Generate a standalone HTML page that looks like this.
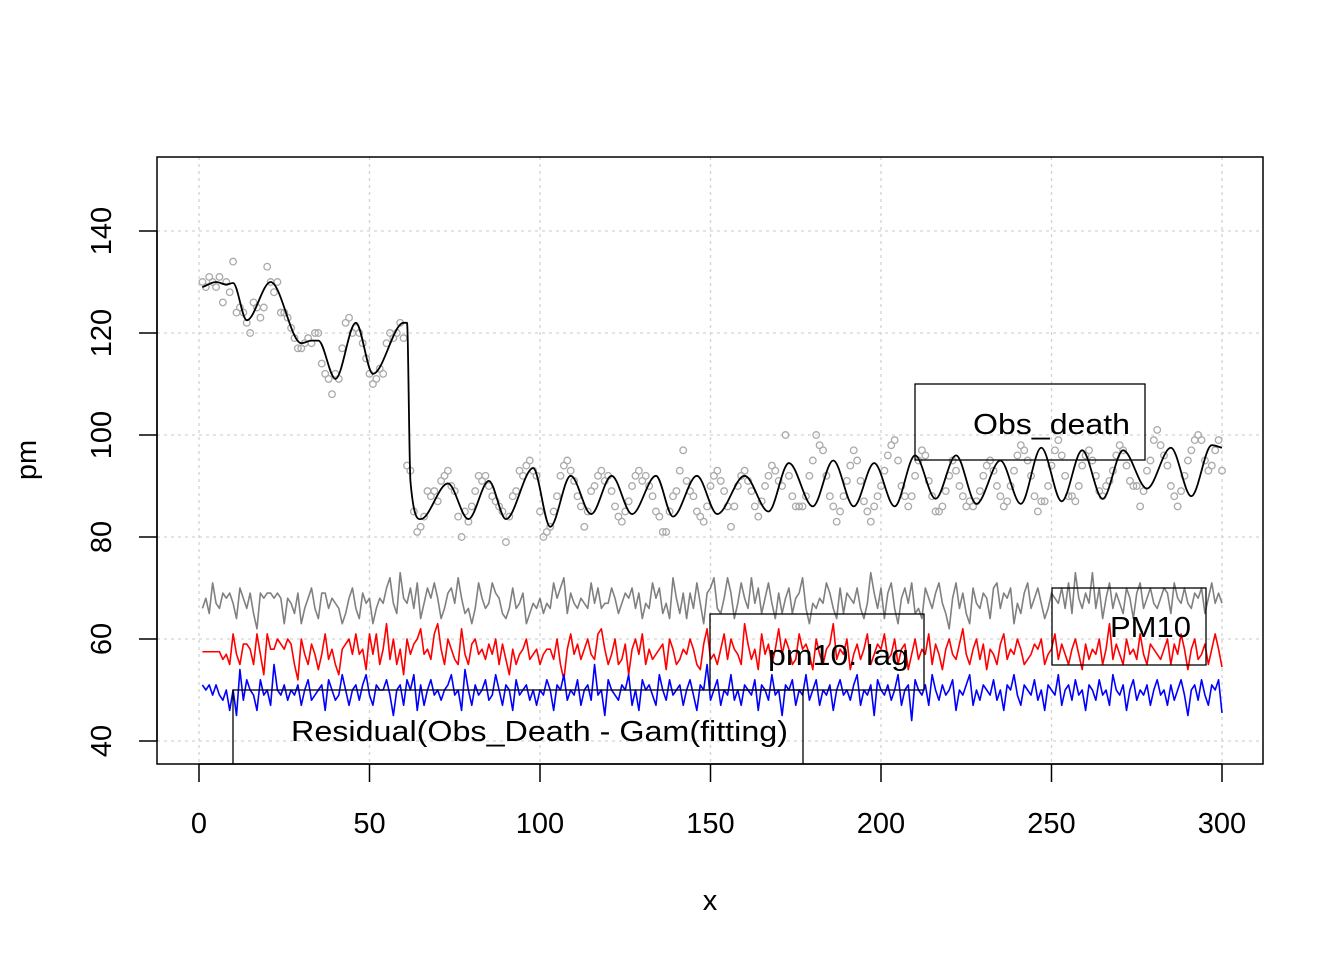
<!DOCTYPE html>
<html><head><meta charset="utf-8"><style>
html,body{margin:0;padding:0;background:#fff}
svg{display:block;font-family:"Liberation Sans",Arial,sans-serif}
</style></head><body>
<svg id="chart" width="1344" height="960"></svg>
<script>
const obsDeath=[130,129,131,130,129,131,126,130,128,134,124,125,124,122,120,126,125,123,125,133,130,128,130,124,124,123,121,119,117,117,118,119,118,120,120,114,112,111,108,112,111,117,122,123,120,121,120,118,115,112,110,111,113,112,118,120,119,120,122,119,94,93,85,81,82,84,89,88,89,87,91,92,93,90,89,84,80,85,83,86,89,92,91,92,90,88,87,86,85,79,84,88,89,93,92,94,95,93,92,85,80,81,82,85,88,92,94,95,93,91,88,86,82,85,89,90,92,93,91,92,89,86,84,83,85,87,90,92,93,91,92,90,88,85,84,81,81,85,88,89,93,97,91,89,88,85,84,83,86,90,92,93,91,89,86,82,86,90,92,93,91,89,86,84,87,90,92,94,93,91,90,100,92,88,86,86,86,88,92,95,100,98,97,92,88,86,83,85,88,91,94,97,95,91,87,85,83,86,88,90,93,96,98,99,95,90,88,86,88,92,95,97,96,91,88,85,85,86,89,92,95,93,90,88,86,87,86,87,89,92,94,95,93,90,88,86,87,90,93,96,98,97,95,92,88,85,87,87,90,94,97,99,96,92,88,88,87,90,94,96,97,95,92,89,88,90,91,93,96,98,97,94,91,90,90,86,89,93,95,99,101,98,96,94,90,88,86,89,92,95,97,99,100,99,95,93,94,97,99,93];
const fitX=[1,5,8,10,14,21,30,33,35,40,46,51,60,61,62,65,73,79,85,90,98,103,109,115,121,127,134,139,146,152,160,167,173,180,186,192,198,204,210,216,222,228,235,241,247,253,259,265,271,278,285,291,297,300];
const fitY=[129,130,129.5,129.8,122.5,130,118,118.5,118.5,111,122,112,122,122,91,83.5,90.5,83.5,91,83.5,93.5,82,92,84.5,92,84.5,92,84,92,84.5,92,85,94.5,86,95,86,94.5,86,96,87.5,96,86.5,95,86.5,97.5,87,97,87.5,97,89.5,97.5,88,98,97.5];
const pm10=[66,68,65,71,67,66,69,68,69,67,64,70,68,66,69,65,62,69,68,69,69,68,69,68,63,68,67,65,69,63,66,68,70,66,64,69,69,66,68,67,66,63,65,68,70,66,64,69,67,68,63,66,68,67,70,72,67,65,73,68,67,70,66,71,64,67,70,68,71,68,64,66,69,70,67,72,68,65,66,63,66,71,68,66,67,71,69,68,65,64,66,70,66,67,69,63,65,67,66,68,65,67,66,71,68,70,72,65,69,67,66,68,67,66,71,67,70,66,67,67,70,68,65,67,69,68,70,66,69,64,67,66,71,68,70,65,67,64,72,68,65,69,64,69,66,71,67,63,69,70,72,66,65,68,72,69,64,67,71,68,66,72,67,70,65,68,71,67,64,69,65,68,70,65,68,69,72,66,63,67,66,68,67,71,69,66,64,70,65,69,68,67,70,66,64,67,73,69,66,70,64,69,71,66,63,68,70,67,71,65,66,64,70,68,66,69,71,67,65,62,68,71,66,69,65,63,70,67,66,69,68,64,70,71,66,69,68,70,63,67,65,69,71,66,68,70,67,64,66,69,68,67,70,66,71,65,73,68,66,69,67,73,66,70,64,68,71,66,69,67,65,70,68,64,69,71,66,68,70,67,66,68,70,69,65,71,68,67,70,67,66,69,68,70,65,68,71,67,69,67];
const pm10Lag=[57.5,57.5,57.5,57.5,57.5,57.5,56,57,55,61,57,55,59,59,58,55,61,57,53,61,58,58,60,59,58,60,59,55,52,60,57,55,59,57,54,57,61,56,58,55,53,58,59,60,57,61,57,58,54,61,57,61,55,58,63,56,60,55,58,53,60,57,59,60,62,57,58,56,61,63,58,55,60,58,56,55,62,57,55,59,60,57,58,56,59,57,60,55,59,56,53,58,55,57,58,60,56,57,58,55,57,58,58,56,60,55,52,58,61,57,59,56,58,60,57,56,61,62,58,55,57,60,55,56,59,53,58,60,57,61,55,58,56,57,58,59,54,60,58,55,56,58,57,60,58,55,54,59,62,56,57,55,58,61,56,60,58,57,55,63,59,56,58,54,61,57,59,55,58,62,57,60,58,55,56,61,58,59,57,54,60,57,55,58,59,63,56,58,57,60,54,57,59,56,58,61,55,57,59,58,61,56,57,60,55,58,59,54,57,60,56,58,57,61,55,59,57,54,58,60,57,56,59,62,57,55,58,60,56,59,54,58,57,55,59,61,56,58,57,60,58,55,56,57,59,58,60,55,57,58,61,56,59,57,55,58,60,57,54,59,56,58,57,60,55,58,63,56,59,57,55,60,57,58,56,61,57,55,59,58,57,56,58,60,55,59,57,61,58,54,58,60,56,57,59,55,58,61,58,54.5];
const resid=[51,50,51,49,51,49,48,50,46,50,45,54,48,52,50,49,46,52,49,50,47,55,50,49,51,48,50,49,51,47,50,52,48,49,50,51,46,52,50,48,49,53,50,47,50,51,48,51,53,49,47,51,50,50,52,49,45,50,51,47,52,50,53,46,51,47,50,52,49,50,48,50,51,53,49,50,46,54,50,47,51,49,50,52,48,49,53,50,47,51,50,46,52,49,50,51,48,50,47,50,49,52,50,46,51,50,53,48,50,49,52,47,50,51,48,55,49,50,45,52,50,49,48,51,50,53,47,50,46,52,50,51,49,47,53,50,48,52,49,50,51,47,50,52,49,46,51,50,55,48,50,52,47,50,49,53,48,50,47,51,50,49,52,46,51,50,48,53,49,50,45,51,50,52,47,50,49,53,48,50,52,47,50,49,51,46,50,52,49,50,48,51,53,47,50,49,51,45,52,50,49,51,48,50,53,47,50,51,44,52,50,49,51,47,53,50,48,51,49,50,52,46,50,49,51,53,47,50,48,51,50,49,52,48,50,46,51,50,53,49,47,51,50,49,52,48,50,46,51,50,49,53,47,50,51,48,52,49,50,46,51,50,48,52,49,50,47,53,50,49,51,46,50,52,48,50,49,51,47,50,52,49,50,47,51,48,50,52,49,45,50,51,48,52,49,47,51,50,52,45.5];
const xTicks=[0,50,100,150,200,250,300];
const yTicks=[40,60,80,100,120,140];

const NS="http://www.w3.org/2000/svg";
const svg=document.getElementById('chart');
const L=157,R=1263,T=157,B=764;
const sx=v=>199+(v)*(1222-199)/300;
const sy=v=>741-(v-40)*(741-231)/100;
function mk(tag,attrs,parent){const e=document.createElementNS(NS,tag);for(const k in attrs)e.setAttribute(k,attrs[k]);(parent||svg).appendChild(e);return e;}

const defs=mk('defs',{});
const cp=mk('clipPath',{id:'clip'},defs);mk('rect',{x:L,y:T,width:R-L,height:B-T},cp);

const grid=mk('g',{});


xTicks.forEach(t=>{mk('line',{x1:sx(t),x2:sx(t),y1:T,y2:B,stroke:'#d3d3d3','stroke-width':1.3,'stroke-dasharray':'3,4'},grid);});
yTicks.forEach(t=>{mk('line',{x1:L,x2:R,y1:sy(t),y2:sy(t),stroke:'#d3d3d3','stroke-width':1.3,'stroke-dasharray':'3,4'},grid);});

const plot=mk('g',{'clip-path':'url(#clip)'});
function poly(arr,color,name){
  const p=mk('polyline',{points:arr.map((v,i)=>sx(i+1)+','+sy(v)).join(' '),fill:'none',stroke:color,'stroke-width':1.6,'stroke-linejoin':'round'},plot);
  
  
}
poly(pm10,'#808080','pm10-line');
poly(pm10Lag,'#ff0000','pm10-lag-line');
poly(resid,'#0000ff','residual-line');

const pts=mk('g',{},plot);


obsDeath.forEach((v,i)=>{
  const c=mk('circle',{cx:sx(i+1),cy:sy(v),r:3.3,fill:'none',stroke:'#aaaaaa','stroke-width':1.3},pts);
  
  
});

(function(){
  const xs=fitX.map(sx),ys=fitY.map(sy),n=xs.length;
  const d=[],m=new Array(n);
  for(let i=0;i<n-1;i++)d.push((ys[i+1]-ys[i])/(xs[i+1]-xs[i]));
  m[0]=d[0];m[n-1]=d[n-2];
  for(let i=1;i<n-1;i++){m[i]=(d[i-1]*d[i]<=0)?0:(d[i-1]+d[i])/2;}
  for(let i=0;i<n-1;i++){if(d[i]===0){m[i]=0;m[i+1]=0;continue;}const a=m[i]/d[i],b=m[i+1]/d[i],s=a*a+b*b;if(s>9){const t=3/Math.sqrt(s);m[i]=t*a*d[i];m[i+1]=t*b*d[i];}}
  let path='M'+xs[0]+','+ys[0];
  for(let i=0;i<n-1;i++){const h=(xs[i+1]-xs[i])/3;path+=' C'+(xs[i]+h)+','+(ys[i]+m[i]*h)+' '+(xs[i+1]-h)+','+(ys[i+1]-m[i+1]*h)+' '+xs[i+1]+','+ys[i+1];}
  const p=mk('path',{d:path,fill:'none',stroke:'#000','stroke-width':1.8},plot);
  
  
})();

const leg=mk('g',{'clip-path':'url(#clip)'});
function legend(x,y,w,h,tx,ty,tl,label,name){
  const g=mk('g',{},leg);
  
  
  mk('rect',{x:x,y:y,width:w,height:h,fill:'none',stroke:'#000','stroke-width':1.3},g);
  const t=mk('text',{x:tx,y:ty,'font-size':29,fill:'#000',textLength:tl,lengthAdjust:'spacingAndGlyphs'},g);t.textContent=label;
}
legend(915,384,230,76,973,434,157,'Obs_death','legend-obs-death');
legend(1052,588,154,77,1110,637,81,'PM10','legend-pm10');
legend(710,614,214,76,768,665,141,'pm10. lag','legend-pm10-lag');
legend(233,690,570,90,291,741,497,'Residual(Obs_Death - Gam(fitting)','legend-residual');

mk('rect',{x:L,y:T,width:R-L,height:B-T,fill:'none',stroke:'#000','stroke-width':1.5});
const xa=mk('g',{});


mk('line',{x1:sx(xTicks[0]),x2:sx(xTicks[xTicks.length-1]),y1:B,y2:B,stroke:'#000','stroke-width':1.5},xa);
xTicks.forEach(t=>{mk('line',{x1:sx(t),x2:sx(t),y1:B,y2:B+18,stroke:'#000','stroke-width':1.5},xa);
  const tx=mk('text',{x:sx(t),y:833,'font-size':29,'text-anchor':'middle'},xa);tx.textContent=t;
  });
const ya=mk('g',{});


mk('line',{x1:L,x2:L,y1:sy(yTicks[0]),y2:sy(yTicks[yTicks.length-1]),stroke:'#000','stroke-width':1.5},ya);
yTicks.forEach(t=>{mk('line',{x1:L-18,x2:L,y1:sy(t),y2:sy(t),stroke:'#000','stroke-width':1.5},ya);
  const tx=mk('text',{x:111,y:sy(t),'font-size':29,'text-anchor':'middle',transform:'rotate(-90 111 '+sy(t)+')'},ya);tx.textContent=t;
  });
const xt=mk('text',{x:710,y:910,'font-size':29,'text-anchor':'middle'});xt.textContent='x';


const yt=mk('text',{x:36,y:460,'font-size':29,'text-anchor':'middle',transform:'rotate(-90 36 460)'});yt.textContent='pm';


</script>
</body></html>
